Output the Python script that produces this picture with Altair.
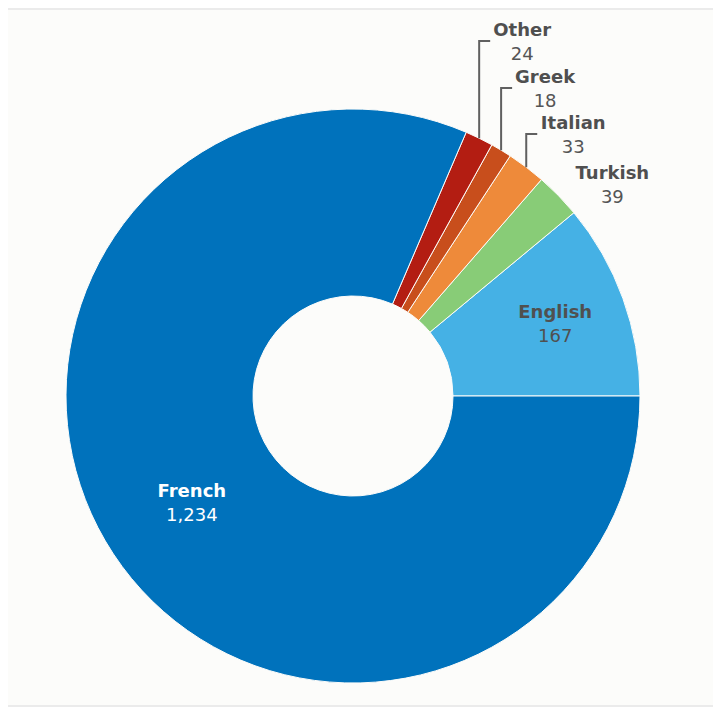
import math
import pandas as pd
import altair as alt

# ---- data ----
languages = ["English", "Turkish", "Italian", "Greek", "Other", "French"]
counts = [167, 39, 33, 18, 24, 1234]
colors = ["#45B1E5", "#88CC77", "#EE8A3A", "#C84E1C", "#B31D12", "#0072BC"]

# ---- layout (pixels, view coordinates) ----
W, H = 705, 699
CX, CY = 345, 388
R_OUT, R_IN = 287, 100
# outside labels: (leader level y, label centre dx from anchor, draw leader)
outside = {
    "Other": (33, 43, True),
    "Greek": (80, 44, True),
    "Italian": (126, 47, True),
    "Turkish": (176, 54, False),
}
# inside labels: radius of label centre
inside = {"French": 193, "English": 215}
inside_color = {"French": "#FFFFFF", "English": "#505050"}
TEXT_SHIFT = 2

total = sum(counts)
df = pd.DataFrame({"language": languages, "count": counts, "ord": range(len(languages))})

# compute slice mid angles (counter-clockwise from 3 o'clock) from the data
rows, lines = [], []
cum = 0
for lang, v in zip(languages, counts):
    a = 2 * math.pi * (cum + v / 2) / total
    cum += v
    ax = CX + R_OUT * math.cos(a)
    ay = CY - R_OUT * math.sin(a)
    label = f"{v:,}"
    if lang in inside:
        r = inside[lang]
        x = CX + r * math.cos(a)
        y = CY - r * math.sin(a) + TEXT_SHIFT
        rows.append(dict(language=lang, value=label, x=x, yn=y - 12, yv=y + 12,
                         cn=inside_color[lang], cv=inside_color[lang]))
    else:
        lvl, dx, lead = outside[lang]
        y = lvl + TEXT_SHIFT
        rows.append(dict(language=lang, value=label, x=ax + dx, yn=y - 12, yv=y + 12,
                         cn="#4F4F4F", cv="#555555"))
        if lead:
            lines += [
                dict(language=lang, seq=0, x=ax, y=ay),
                dict(language=lang, seq=1, x=ax, y=lvl),
                dict(language=lang, seq=2, x=ax + 11, y=lvl),
            ]

labels = pd.DataFrame(rows)
leaders = pd.DataFrame(lines)

arcs = alt.Chart(df).mark_arc(
    outerRadius=R_OUT, innerRadius=R_IN, stroke="#FCFCFA", strokeWidth=1
).encode(
    theta=alt.Theta("count:Q", stack=True,
                    scale=alt.Scale(range=[math.pi / 2, math.pi / 2 - 2 * math.pi])),
    color=alt.Color("language:N", scale=alt.Scale(domain=languages, range=colors), legend=None),
    order=alt.Order("ord:Q"),
    x=alt.value(CX),
    y=alt.value(CY),
)

lead = alt.Chart(leaders).mark_line(color="#606060", strokeWidth=2).encode(
    x=alt.X("x:Q", scale=None),
    y=alt.Y("y:Q", scale=None),
    detail="language:N",
    order="seq:Q",
)

names = alt.Chart(labels).mark_text(
    font="DejaVu Sans", fontSize=18, fontWeight="bold", align="center", baseline="middle"
).encode(
    x=alt.X("x:Q", scale=None),
    y=alt.Y("yn:Q", scale=None),
    text="language:N",
    color=alt.Color("cn:N", scale=None),
)

values = alt.Chart(labels).mark_text(
    font="DejaVu Sans", fontSize=18, align="center", baseline="middle"
).encode(
    x=alt.X("x:Q", scale=None),
    y=alt.Y("yv:Q", scale=None),
    text="value:N",
    color=alt.Color("cv:N", scale=None),
)

frame = pd.DataFrame({"k": [0]})
top_line = alt.Chart(frame).mark_rule(color="#EBEBEB", strokeWidth=2).encode(
    x=alt.value(0), x2=alt.value(W), y=alt.value(1)
)
bottom_line = alt.Chart(frame).mark_rule(color="#EBEBEB", strokeWidth=2).encode(
    x=alt.value(0), x2=alt.value(W), y=alt.value(H - 1)
)

chart = alt.layer(arcs, lead, names, values, top_line, bottom_line).properties(
    width=W, height=H, padding=0, autosize="none", background="#FFFFFF"
).configure_view(fill="#FCFCFA", strokeWidth=0)

chart.save("out.html", embed_options={"renderer": "svg", "actions": False})
